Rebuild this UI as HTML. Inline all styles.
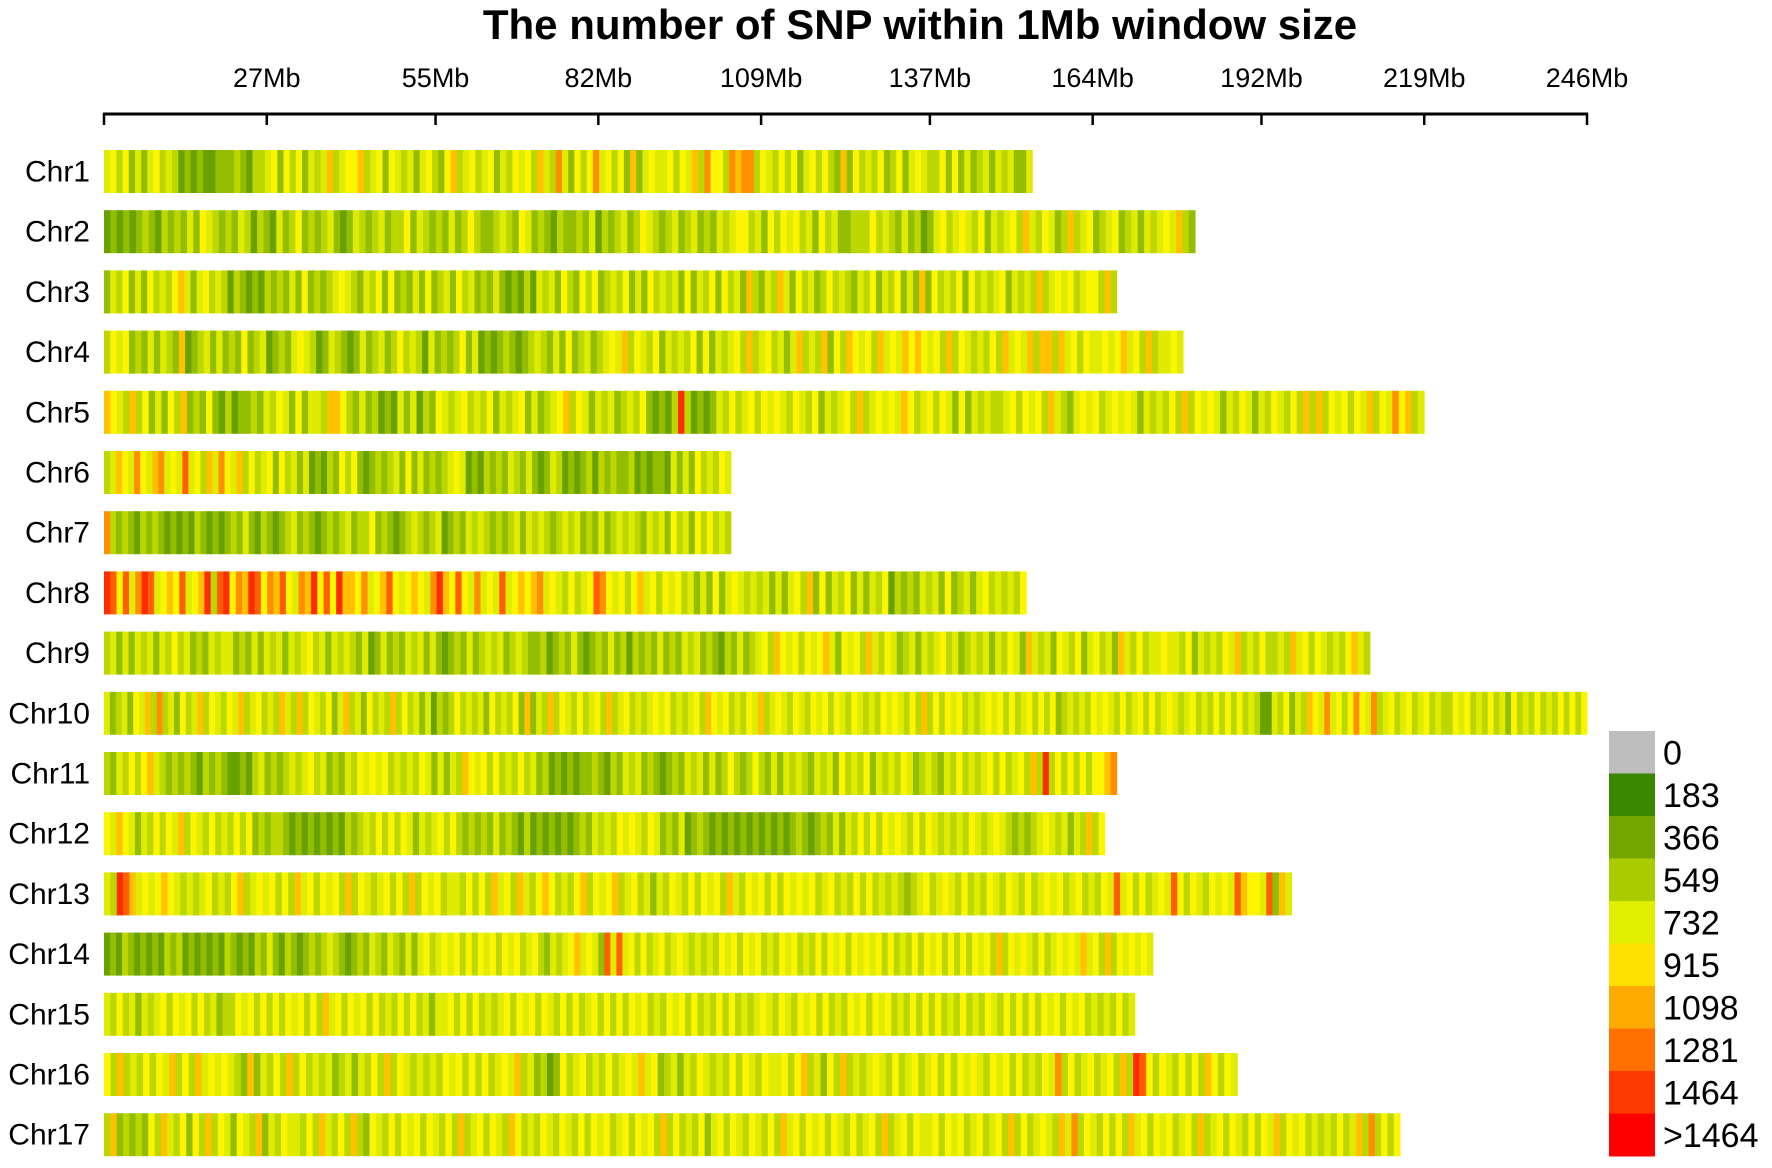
<!DOCTYPE html>
<html><head><meta charset="utf-8"><style>
html,body{margin:0;padding:0;background:#fff;}
svg{display:block;font-family:"Liberation Sans",Arial,sans-serif;}
</style></head><body>
<svg id="chart" width="1772" height="1168" viewBox="0 0 1772 1168">
<text x="920" y="39" text-anchor="middle" font-size="42" font-weight="bold">The number of SNP within 1Mb window size</text>
<g id="axis"></g>
<g id="rows"></g>
<g id="legend"></g>
</svg>
<script>
const chromNames = ["Chr1","Chr2","Chr3","Chr4","Chr5","Chr6","Chr7","Chr8","Chr9","Chr10","Chr11","Chr12","Chr13","Chr14","Chr15","Chr16","Chr17"];
const chromLengths = [154,181,168,179,219,104,104,153,210,246,168,166,197,174,171,188,215];
const tickValues = [0,27,55,82,109,137,164,192,219,246];
const tickLabels = ["","27Mb","55Mb","82Mb","109Mb","137Mb","164Mb","192Mb","219Mb","246Mb"];
const legendLabels = ["0","183","366","549","732","915","1098","1281","1464",">1464"];
const legendColors = ["#bebebe","#3a8700","#74a800","#aacb00","#e2ee00","#ffe000","#ffaa00","#ff7000","#ff3a00","#ff0000"];
// per-window SNP class codes (value = code*150+150)
const chr1 = "4535242453 4312121122 2321334525 3524346345 5634525434 2453256345 3452435453 6437425357 4535262454 4535463755 3767735435 3524535326 2534352352 4543 3525242 3424342 24";
const chr2 = "1212123213 2324254323 2431321423 5232342124 3234233524 3232423532 2343254232 1322324132 3423543234 2342324345 5342535453 4253422333 5343242312 4534543524 3453643542 3634523452 3424345463 2";
const chr3 = "2435242534 3564245343 1321213232 4252323454 3243525232 4252342534 2324212131 4342532535 2343524253 4342524352 5342632436 4253423534 3243524352 4262534352 5343452434 3634545345 5363";
const chr4 = "3545232424 3261234242 3252341232 4543124321 2423423534 3142323524 1212321234 3242523423 4546354352 4343525243 4536345342 4634362536 5453645465 6545363543 4353645463 6636453544 5456453634 454";
const chr5 = "6543635242 5362325213 1223243542 5244366532 4231214241 3254345343 5243452423 4563542434 2343521213 9312124353 4535454354 3524345363 4545465345 3542524343 3453545364 3245453454 5424343536 3545424354 2435435363 6354535463 5475634";
const chr6 = "3465475467 4548453647 5463534525 3424121325 3521232342 5242323454 1213232432 4212431212 3132322312 1221424253 4354";
const chr7 = "7323213232 1212132121 2324213212 3423212323 4233523212 3432341232 4343232342 4343234342 3242343432 4342534253 5343";
const chr8 = "9858479845 6584569389 5769857685 4769585966 5745685456 5479658547 4548456567 4543534587 5453564535 4534242524 5434342424 5362524352 4243513232 4342523424 5343435";
const chr9 = "3424243424 3534232434 4232424342 4345342434 3241242324 3424212324 2343423432 2312324212 3242313232 4232434232 1324234536 5453545642 5453643542 3424345342 3434243542 6434254352 4534264353 4454435243 4354634353 3436453543 435643";
const chr10 = "4234254637 3425346354 3546345343 6436354352 4634253436 3534241323 5343425343 5262436354 3534536345 3434545343 4536545343 5463454354 3545354354 3435454353 6353545343 4545353453 5352343435 4543534535 3454345343 5353534311 4352436547 4535754734 5345345343 3545343534 2534353435 3535";
const chr11 = "3243535643 2323213232 1121342323 4345342324 3545453434 3542424365 4535343534 2312121223 2132434232 1232434242 3532353242 4343243425 3435243435 4234324353 4345353453 6393535353 5567";
const chr12 = "5465424353 5463543534 3535232332 1212121213 2343535354 2434535323 2324232131 2121212324 3435454354 2324123212 1212121212 1232123242 4353535454 3535434343 5434543232 3454342436 35";
const chr13 = "4398645456 5434345343 5634545353 6453545363 5434535363 5453443535 3645364356 5343563545 6345342435 4353545364 3545353545 4534534353 5343432345 3454353435 4354353454 5345343548 4535345485 3543545486 5548264";
const chr14 = "1213212121 3231212121 3212132421 3212323432 1232432432 4245345453 5354535453 4532434564 5428484535 3453454343 4354535453 4354534353 5453545453 5343535453 5353545363 5454353454 5464536354 5454";
const chr15 = "4353424345 3545353423 3545353535 4535364535 4535343535 3424453535 3434535453 5435353453 5353545343 5453534353 5343454354 3545353435 4535453435 3535343534 3543535353 5453545343 43534";
const chr16 = "5363435354 6353645454 3262435363 5343423424 3536354343 4354535353 4546342312 5345343534 5464523424 3543435354 3544535634 2536343454 3534534535 3545435453 5343547353 4534536398 5354353536 5354";
const chr17 = "3623232536 4352536354 2543624354 4353643536 3254353545 3543536345 3543653435 4354353545 3453545363 5343524535 4354353645 3545354353 4536345354 4535453453 4536353454 3647354353 5364535453 4536345354 3535463545 3434353463 73535";
const chromCodes = [chr1,chr2,chr3,chr4,chr5,chr6,chr7,chr8,chr9,chr10,chr11,chr12,chr13,chr14,chr15,chr16,chr17];

const NS="http://www.w3.org/2000/svg";
const X0=104, X1=1587, MAXMB=246;
const xScale = mb => X0 + (X1-X0)*mb/MAXMB;
const ROW0=150, PITCH=60.2, BARH=43;
const yScale = i => ROW0 + i*PITCH;

function hex2rgb(h){return [1,3,5].map(i=>parseInt(h.substr(i,2),16));}
const stops=[[183,"#4a9000"],[366,"#7aac00"],[549,"#b0d000"],[732,"#dcea00"],[900,"#fbf600"],[1000,"#ffd400"],[1098,"#ffae00"],[1281,"#ff7400"],[1464,"#ff3c00"],[1600,"#ff0000"]];
function colorFor(v){
  if(v<=0) return legendColors[0];
  if(v<=stops[0][0]) return stops[0][1];
  for(let i=1;i<stops.length;i++){
    if(v<=stops[i][0]){
      const t=(v-stops[i-1][0])/(stops[i][0]-stops[i-1][0]);
      const a=hex2rgb(stops[i-1][1]), b=hex2rgb(stops[i][1]);
      return "rgb("+a.map((c,k)=>Math.round(c+(b[k]-c)*t)).join(",")+")";
    }
  }
  return "#ff0000";
}
function mk(tag,attrs,parent){const e=document.createElementNS(NS,tag);for(const k in attrs)e.setAttribute(k,attrs[k]);parent.appendChild(e);return e;}

// axis
const axis=document.getElementById("axis");
const ax=mk("line",{x1:xScale(0)-1,x2:xScale(MAXMB)+1,y1:114,y2:114,stroke:"#000","stroke-width":3},axis);


tickValues.forEach((v,i)=>{
  const t=mk("line",{x1:xScale(v),x2:xScale(v),y1:113,y2:125,stroke:"#000","stroke-width":2.5},axis);
  
  
  if(tickLabels[i]){
    const l=mk("text",{x:xScale(v),y:87,"text-anchor":"middle","font-size":27},axis);
    l.textContent=tickLabels[i];
    
    
  }
});

// rows
const rows=document.getElementById("rows");
chromNames.forEach((name,i)=>{
  const g=mk("g",{},rows);
  
  
  const lab=mk("text",{x:90,y:yScale(i)+BARH/2+10,"text-anchor":"end","font-size":30},g);
  lab.textContent=name;
  
  
  const codes=chromCodes[i].replace(/\s/g,"").split("").map(c=>+c*150+150);
  const n=codes.length, w=chromLengths[i]/n;
  codes.forEach((v,j)=>{
    const xa=xScale(j*w), xb=xScale((j+1)*w);
    const r=mk("rect",{x:xa.toFixed(2),y:yScale(i),width:(xb-xa+0.4).toFixed(2),height:BARH,fill:colorFor(v)},g);
    
    
  });
});

// legend
const leg=document.getElementById("legend");
const LY=731, LH=42.5;
legendLabels.forEach((lab,i)=>{
  const r=mk("rect",{x:1609,y:LY+i*LH,width:46,height:LH+0.5,fill:legendColors[i]},leg);
  
  
  const t=mk("text",{x:1663,y:LY+i*LH+LH/2+12,"font-size":34},leg);
  t.textContent=lab;
  
  
});
</script>
</body></html>
